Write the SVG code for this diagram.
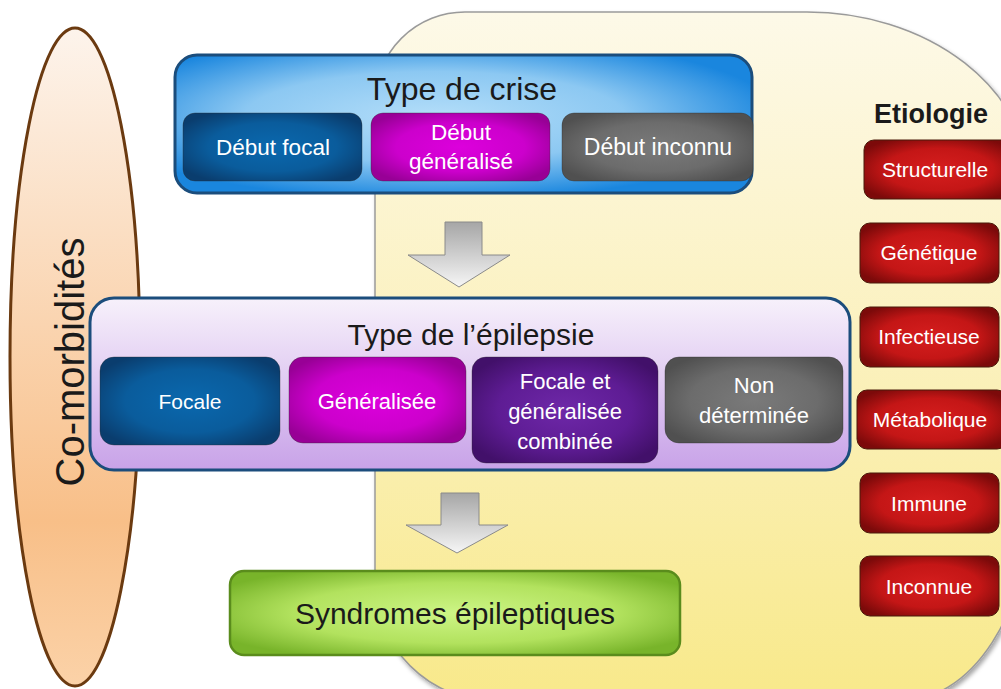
<svg xmlns="http://www.w3.org/2000/svg" width="1001" height="689" viewBox="0 0 1001 689">
<defs>
<linearGradient id="gYellow" x1="0" y1="0" x2="0" y2="1"><stop offset="0" stop-color="#fdf9e8"/><stop offset="0.5" stop-color="#fbf1bd"/><stop offset="1" stop-color="#f8e98a"/></linearGradient>
<linearGradient id="gEllipse" x1="0" y1="0" x2="0" y2="1"><stop offset="0" stop-color="#fdf4ec"/><stop offset="0.75" stop-color="#f8bf88"/><stop offset="1" stop-color="#fbd2a8"/></linearGradient>
<radialGradient id="gBlueOuter" cx="0.45" cy="0.45" r="0.6"><stop offset="0" stop-color="#b4def9"/><stop offset="0.55" stop-color="#8cc8f2"/><stop offset="1" stop-color="#1a86de"/></radialGradient>
<radialGradient id="gDarkBlue" cx="0.5" cy="0.5" r="0.6"><stop offset="0" stop-color="#0a68ae"/><stop offset="0.6" stop-color="#0a5c9c"/><stop offset="1" stop-color="#0a3d6e"/></radialGradient>
<radialGradient id="gMagenta" cx="0.5" cy="0.5" r="0.6"><stop offset="0" stop-color="#dc00dc"/><stop offset="0.6" stop-color="#cc00cc"/><stop offset="1" stop-color="#980096"/></radialGradient>
<radialGradient id="gGray" cx="0.5" cy="0.5" r="0.6"><stop offset="0" stop-color="#7a7a7a"/><stop offset="0.6" stop-color="#6c6c6c"/><stop offset="1" stop-color="#505050"/></radialGradient>
<radialGradient id="gPurple" cx="0.5" cy="0.5" r="0.6"><stop offset="0" stop-color="#6e28a8"/><stop offset="0.6" stop-color="#5e1c94"/><stop offset="1" stop-color="#42106a"/></radialGradient>
<radialGradient id="gRed" cx="0.5" cy="0.5" r="0.6"><stop offset="0" stop-color="#d61e1e"/><stop offset="0.6" stop-color="#c41616"/><stop offset="1" stop-color="#7c0a0a"/></radialGradient>
<radialGradient id="gGreen" cx="0.5" cy="0.5" r="0.6"><stop offset="0" stop-color="#cdf586"/><stop offset="0.6" stop-color="#b2e25e"/><stop offset="1" stop-color="#78b42a"/></radialGradient>
<linearGradient id="gLavender" x1="0" y1="0" x2="0" y2="1"><stop offset="0" stop-color="#f7f1fb"/><stop offset="1" stop-color="#c8a2e8"/></linearGradient>
<linearGradient id="gArrow" x1="0" y1="0" x2="0" y2="1"><stop offset="0" stop-color="#a6a6a6"/><stop offset="1" stop-color="#f6f6f6"/></linearGradient>
<filter id="shadow" x="-10%" y="-10%" width="130%" height="130%"><feDropShadow dx="2" dy="3" stdDeviation="2" flood-color="#000" flood-opacity="0.35"/></filter>
</defs>
<style>
.txt{font-family:"Liberation Sans",Arial,sans-serif;text-anchor:middle}
.dark{fill:#1a1a1a}
.white{fill:#ffffff}
.sub{stroke:#2a2a2a;stroke-opacity:0.35;stroke-width:1}
.red{fill:url(#gRed);stroke:#4a1a0a;stroke-width:1}
.arrow{fill:url(#gArrow);stroke:#8a8a8a;stroke-width:1}
</style>

<g id="etiology-panel">
<path d="M 375,102 A 90 90 0 0 1 465,12 L 807,12 A 223 174 0 0 1 1030,186 L 1030,501 A 129 200 0 0 1 901,701 L 495,701 A 120 120 0 0 1 375,581 Z" fill="url(#gYellow)" stroke="#9a9a9a" stroke-width="1.5" filter="url(#shadow)"/>
</g>

<g id="comorbidites">
<ellipse cx="75" cy="357" rx="65" ry="329" fill="url(#gEllipse)" stroke="#6b3a10" stroke-width="3"/>
<text class="txt dark" x="0" y="0" font-size="40" transform="translate(84,362) rotate(-90)">Co-morbidités</text>
</g>

<g id="type-crise">
<rect x="175" y="55" width="577" height="138" rx="22" fill="url(#gBlueOuter)" stroke="#1b4d7c" stroke-width="3"/>
<text class="txt dark" x="462" y="100" font-size="32">Type de crise</text>
</g>
<g id="debut-focal">
<rect x="183" y="113" width="179" height="68" rx="12" fill="url(#gDarkBlue)" class="sub"/>
<text class="txt white" x="273" y="155" font-size="22.5">Début focal</text>
</g>
<g id="debut-generalise">
<rect x="371" y="113" width="179" height="68" rx="12" fill="url(#gMagenta)" class="sub"/>
<text class="txt white" x="461" y="140" font-size="22.5">Début</text>
<text class="txt white" x="461" y="169" font-size="22.5">généralisé</text>
</g>
<g id="debut-inconnu">
<rect x="562" y="113" width="191" height="68" rx="12" fill="url(#gGray)" class="sub"/>
<text class="txt white" x="658" y="155" font-size="23">Début inconnu</text>
</g>

<g id="connectors">
<polygon class="arrow" points="445,222 482,222 482,255 510,255 459,287 408,255 445,255"/>
<polygon class="arrow" points="441,493 479,493 479,525 508,525 457,553 406,525 441,525"/>
</g>

<g id="type-epilepsie">
<rect x="90" y="298" width="760" height="172" rx="24" fill="url(#gLavender)" stroke="#1b4d7c" stroke-width="3"/>
<text class="txt dark" x="471" y="345" font-size="30">Type de l’épilepsie</text>
</g>
<g id="focale">
<rect x="100" y="357" width="180" height="88" rx="14" fill="url(#gDarkBlue)" class="sub"/>
<text class="txt white" x="190" y="409" font-size="21">Focale</text>
</g>
<g id="generalisee">
<rect x="289" y="357" width="177" height="86" rx="14" fill="url(#gMagenta)" class="sub"/>
<text class="txt white" x="377" y="409" font-size="22">Généralisée</text>
</g>
<g id="focale-generalisee">
<rect x="472" y="357" width="186" height="106" rx="14" fill="url(#gPurple)" class="sub"/>
<text class="txt white" x="565" y="389" font-size="22">Focale et</text>
<text class="txt white" x="565" y="419" font-size="22">généralisée</text>
<text class="txt white" x="565" y="449" font-size="22">combinée</text>
</g>
<g id="non-determinee">
<rect x="665" y="357" width="178" height="86" rx="14" fill="url(#gGray)" class="sub"/>
<text class="txt white" x="754" y="393" font-size="22">Non</text>
<text class="txt white" x="754" y="423" font-size="22">déterminée</text>
</g>

<g id="syndromes">
<rect x="230" y="571" width="450" height="84" rx="14" fill="url(#gGreen)" stroke="#5a8c1c" stroke-width="2.5"/>
<text class="txt dark" x="455" y="624" font-size="30">Syndromes épileptiques</text>
</g>

<g id="etiologie-title">
<text class="txt dark" x="931" y="123" font-size="27" font-weight="bold">Etiologie</text>
</g>
<g id="structurelle">
<rect class="red" x="864" y="140" width="150" height="59" rx="10"/>
<text class="txt white" x="935" y="177" font-size="21">Structurelle</text>
</g>
<g id="genetique">
<rect class="red" x="860" y="223" width="139" height="60" rx="10"/>
<text class="txt white" x="929" y="260" font-size="21">Génétique</text>
</g>
<g id="infectieuse">
<rect class="red" x="860" y="307" width="139" height="60" rx="10"/>
<text class="txt white" x="929" y="344" font-size="21">Infectieuse</text>
</g>
<g id="metabolique">
<rect class="red" x="857" y="390" width="150" height="59" rx="10"/>
<text class="txt white" x="930" y="427" font-size="21">Métabolique</text>
</g>
<g id="immune">
<rect class="red" x="860" y="473" width="139" height="60" rx="10"/>
<text class="txt white" x="929" y="511" font-size="21">Immune</text>
</g>
<g id="inconnue">
<rect class="red" x="860" y="556" width="139" height="60" rx="10"/>
<text class="txt white" x="929" y="594" font-size="21">Inconnue</text>
</g>
</svg>
